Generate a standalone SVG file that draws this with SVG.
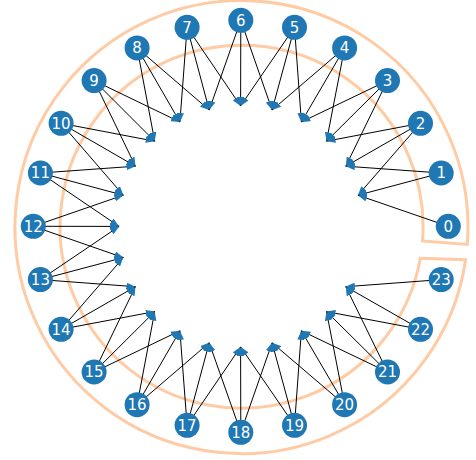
<svg xmlns="http://www.w3.org/2000/svg" width="476" height="460" viewBox="0 0 476 460">
<style>
.ring{fill:none;stroke:#ffcba4;stroke-width:3;stroke-linejoin:miter}
.e{stroke:#000;stroke-width:1;fill:none;marker-end:url(#ah)}
.n circle{fill:#1f77b4}
.n text{fill:#fff;font-family:"DejaVu Sans",sans-serif;font-size:15px;text-anchor:middle}
</style>
<defs>
<marker id="ah" markerUnits="userSpaceOnUse" markerWidth="9" markerHeight="7" viewBox="0 0 8 6" refX="8" refY="3" orient="auto">
<path d="M0,0 L8,3 L0,6 Z" fill="#1f77b4"/>
</marker>
</defs>
<rect width="476" height="460" fill="#fff"/>
<path id="band" class="ring" d="M465.6 259.7 A226.5 226.5 0 1 1 467.3 244.4 L422.5 240.9 A181.5 181.5 0 1 0 420.3 258.2 Z"/>
<g id="connectors">
<line class="e" x1="448.3" y1="226.3" x2="358.0" y2="195.2"/>
<line class="e" x1="441.2" y1="173.0" x2="358.0" y2="195.2"/>
<line class="e" x1="441.2" y1="173.0" x2="345.8" y2="166.2"/>
<line class="e" x1="420.5" y1="123.3" x2="358.0" y2="195.2"/>
<line class="e" x1="420.5" y1="123.3" x2="345.8" y2="166.2"/>
<line class="e" x1="420.5" y1="123.3" x2="326.5" y2="141.2"/>
<line class="e" x1="387.5" y1="80.6" x2="345.8" y2="166.2"/>
<line class="e" x1="387.5" y1="80.6" x2="326.5" y2="141.2"/>
<line class="e" x1="387.5" y1="80.6" x2="301.4" y2="122.0"/>
<line class="e" x1="344.6" y1="47.9" x2="326.5" y2="141.2"/>
<line class="e" x1="344.6" y1="47.9" x2="301.4" y2="122.0"/>
<line class="e" x1="344.6" y1="47.9" x2="272.1" y2="110.0"/>
<line class="e" x1="294.5" y1="27.3" x2="301.4" y2="122.0"/>
<line class="e" x1="294.5" y1="27.3" x2="272.1" y2="110.0"/>
<line class="e" x1="294.5" y1="27.3" x2="240.6" y2="105.9"/>
<line class="e" x1="240.8" y1="20.3" x2="272.1" y2="110.0"/>
<line class="e" x1="240.8" y1="20.3" x2="240.6" y2="105.9"/>
<line class="e" x1="240.8" y1="20.3" x2="209.2" y2="110.0"/>
<line class="e" x1="187.1" y1="27.3" x2="240.6" y2="105.9"/>
<line class="e" x1="187.1" y1="27.3" x2="209.2" y2="110.0"/>
<line class="e" x1="187.1" y1="27.3" x2="179.9" y2="122.0"/>
<line class="e" x1="137.1" y1="47.9" x2="209.2" y2="110.0"/>
<line class="e" x1="137.1" y1="47.9" x2="179.9" y2="122.0"/>
<line class="e" x1="137.1" y1="47.9" x2="154.7" y2="141.2"/>
<line class="e" x1="94.1" y1="80.6" x2="179.9" y2="122.0"/>
<line class="e" x1="94.1" y1="80.6" x2="154.7" y2="141.2"/>
<line class="e" x1="94.1" y1="80.6" x2="135.4" y2="166.2"/>
<line class="e" x1="61.1" y1="123.3" x2="154.7" y2="141.2"/>
<line class="e" x1="61.1" y1="123.3" x2="135.4" y2="166.2"/>
<line class="e" x1="61.1" y1="123.3" x2="123.3" y2="195.2"/>
<line class="e" x1="40.4" y1="173.0" x2="135.4" y2="166.2"/>
<line class="e" x1="40.4" y1="173.0" x2="123.3" y2="195.2"/>
<line class="e" x1="40.4" y1="173.0" x2="119.1" y2="226.4"/>
<line class="e" x1="33.3" y1="226.3" x2="123.3" y2="195.2"/>
<line class="e" x1="33.3" y1="226.3" x2="119.1" y2="226.4"/>
<line class="e" x1="33.3" y1="226.3" x2="123.3" y2="257.6"/>
<line class="e" x1="40.4" y1="279.6" x2="119.1" y2="226.4"/>
<line class="e" x1="40.4" y1="279.6" x2="123.3" y2="257.6"/>
<line class="e" x1="40.4" y1="279.6" x2="135.4" y2="286.7"/>
<line class="e" x1="61.1" y1="329.3" x2="123.3" y2="257.6"/>
<line class="e" x1="61.1" y1="329.3" x2="135.4" y2="286.7"/>
<line class="e" x1="61.1" y1="329.3" x2="154.7" y2="311.6"/>
<line class="e" x1="94.1" y1="372.0" x2="135.4" y2="286.7"/>
<line class="e" x1="94.1" y1="372.0" x2="154.7" y2="311.6"/>
<line class="e" x1="94.1" y1="372.0" x2="179.9" y2="330.8"/>
<line class="e" x1="137.1" y1="404.7" x2="154.7" y2="311.6"/>
<line class="e" x1="137.1" y1="404.7" x2="179.9" y2="330.8"/>
<line class="e" x1="137.1" y1="404.7" x2="209.2" y2="342.8"/>
<line class="e" x1="187.1" y1="425.3" x2="179.9" y2="330.8"/>
<line class="e" x1="187.1" y1="425.3" x2="209.2" y2="342.8"/>
<line class="e" x1="187.1" y1="425.3" x2="240.6" y2="346.9"/>
<line class="e" x1="240.8" y1="432.3" x2="209.2" y2="342.8"/>
<line class="e" x1="240.8" y1="432.3" x2="240.6" y2="346.9"/>
<line class="e" x1="240.8" y1="432.3" x2="272.1" y2="342.8"/>
<line class="e" x1="294.5" y1="425.3" x2="240.6" y2="346.9"/>
<line class="e" x1="294.5" y1="425.3" x2="272.1" y2="342.8"/>
<line class="e" x1="294.5" y1="425.3" x2="301.4" y2="330.8"/>
<line class="e" x1="344.6" y1="404.7" x2="272.1" y2="342.8"/>
<line class="e" x1="344.6" y1="404.7" x2="301.4" y2="330.8"/>
<line class="e" x1="344.6" y1="404.7" x2="326.5" y2="311.6"/>
<line class="e" x1="387.5" y1="372.0" x2="301.4" y2="330.8"/>
<line class="e" x1="387.5" y1="372.0" x2="326.5" y2="311.6"/>
<line class="e" x1="387.5" y1="372.0" x2="345.8" y2="286.7"/>
<line class="e" x1="420.5" y1="329.3" x2="326.5" y2="311.6"/>
<line class="e" x1="420.5" y1="329.3" x2="345.8" y2="286.7"/>
<line class="e" x1="441.2" y1="279.6" x2="345.8" y2="286.7"/>
</g>
<g id="n0" class="n"><circle cx="448.3" cy="226.3" r="12.5"/><text x="448.3" y="231.7">0</text></g>
<g id="n1" class="n"><circle cx="441.2" cy="173.0" r="12.5"/><text x="441.2" y="178.4">1</text></g>
<g id="n2" class="n"><circle cx="420.5" cy="123.3" r="12.5"/><text x="420.5" y="128.7">2</text></g>
<g id="n3" class="n"><circle cx="387.5" cy="80.6" r="12.5"/><text x="387.5" y="86.0">3</text></g>
<g id="n4" class="n"><circle cx="344.6" cy="47.9" r="12.5"/><text x="344.6" y="53.3">4</text></g>
<g id="n5" class="n"><circle cx="294.5" cy="27.3" r="12.5"/><text x="294.5" y="32.7">5</text></g>
<g id="n6" class="n"><circle cx="240.8" cy="20.3" r="12.5"/><text x="240.8" y="25.7">6</text></g>
<g id="n7" class="n"><circle cx="187.1" cy="27.3" r="12.5"/><text x="187.1" y="32.7">7</text></g>
<g id="n8" class="n"><circle cx="137.1" cy="47.9" r="12.5"/><text x="137.1" y="53.3">8</text></g>
<g id="n9" class="n"><circle cx="94.1" cy="80.6" r="12.5"/><text x="94.1" y="86.0">9</text></g>
<g id="n10" class="n"><circle cx="61.1" cy="123.3" r="12.5"/><text x="61.1" y="128.7">10</text></g>
<g id="n11" class="n"><circle cx="40.4" cy="173.0" r="12.5"/><text x="40.4" y="178.4">11</text></g>
<g id="n12" class="n"><circle cx="33.3" cy="226.3" r="12.5"/><text x="33.3" y="231.7">12</text></g>
<g id="n13" class="n"><circle cx="40.4" cy="279.6" r="12.5"/><text x="40.4" y="285.0">13</text></g>
<g id="n14" class="n"><circle cx="61.1" cy="329.3" r="12.5"/><text x="61.1" y="334.7">14</text></g>
<g id="n15" class="n"><circle cx="94.1" cy="372.0" r="12.5"/><text x="94.1" y="377.4">15</text></g>
<g id="n16" class="n"><circle cx="137.1" cy="404.7" r="12.5"/><text x="137.1" y="410.1">16</text></g>
<g id="n17" class="n"><circle cx="187.1" cy="425.3" r="12.5"/><text x="187.1" y="430.7">17</text></g>
<g id="n18" class="n"><circle cx="240.8" cy="432.3" r="12.5"/><text x="240.8" y="437.7">18</text></g>
<g id="n19" class="n"><circle cx="294.5" cy="425.3" r="12.5"/><text x="294.5" y="430.7">19</text></g>
<g id="n20" class="n"><circle cx="344.6" cy="404.7" r="12.5"/><text x="344.6" y="410.1">20</text></g>
<g id="n21" class="n"><circle cx="387.5" cy="372.0" r="12.5"/><text x="387.5" y="377.4">21</text></g>
<g id="n22" class="n"><circle cx="420.5" cy="329.3" r="12.5"/><text x="420.5" y="334.7">22</text></g>
<g id="n23" class="n"><circle cx="441.2" cy="279.6" r="12.5"/><text x="441.2" y="285.0">23</text></g>
</svg>
